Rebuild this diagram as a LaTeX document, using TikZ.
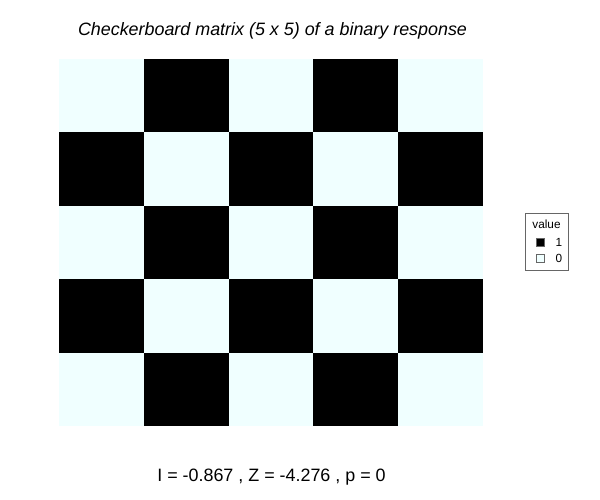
\documentclass[tikz,border=0pt]{standalone}
\usepackage{fontspec}
\setmainfont{Liberation Sans}
\definecolor{azure}{HTML}{F0FFFF}
\begin{document}
\begin{tikzpicture}[x=1pt,y=-1pt,
  txt/.style={inner sep=0pt,anchor=base}]
\useasboundingbox (0,0) rectangle (600,500);
\fill[white] (0,0) rectangle (600,500);
\foreach \i in {0,...,4}{
  \foreach \j in {0,...,4}{
    \pgfmathtruncatemacro{\p}{mod(\i+\j,2)}
    \ifnum\p=0
      \fill[azure] ({59+\i*84.8},{59+\j*73.4}) rectangle ({59+(\i+1)*84.8},{59+(\j+1)*73.4});
    \else
      \fill[black] ({59+\i*84.8},{59+\j*73.4}) rectangle ({59+(\i+1)*84.8},{59+(\j+1)*73.4});
    \fi
  }
}
\node[txt,font=\fontsize{17.9}{21}\selectfont\itshape] (title) at (272.5,35.7) {Checkerboard matrix (5 x 5) of a binary response};
\node[txt,font=\fontsize{17.9}{21}\selectfont] (stat) at (271.5,481.5) {I = -0.867 , Z = -4.276 , p = 0};
\node[draw=black!60,line width=0.8pt,minimum width=43.5pt,minimum height=57.5pt,inner sep=0pt] (legend) at (547,242) {};
\node[txt,font=\fontsize{11.8}{14}\selectfont] (lt) at (546.5,228.5) {value};
\node[fill=black,draw=black!60,line width=0.5pt,minimum size=8pt,inner sep=0pt] (k1) at (540.5,242) {};
\node[fill=azure,draw=black!60,line width=0.5pt,minimum size=8pt,inner sep=0pt] (k0) at (540.5,258) {};
\node[txt,font=\fontsize{11.8}{14}\selectfont] (l1) at (559,246.5) {1};
\node[txt,font=\fontsize{11.8}{14}\selectfont] (l0) at (559,262.5) {0};
\end{tikzpicture}
\end{document}
